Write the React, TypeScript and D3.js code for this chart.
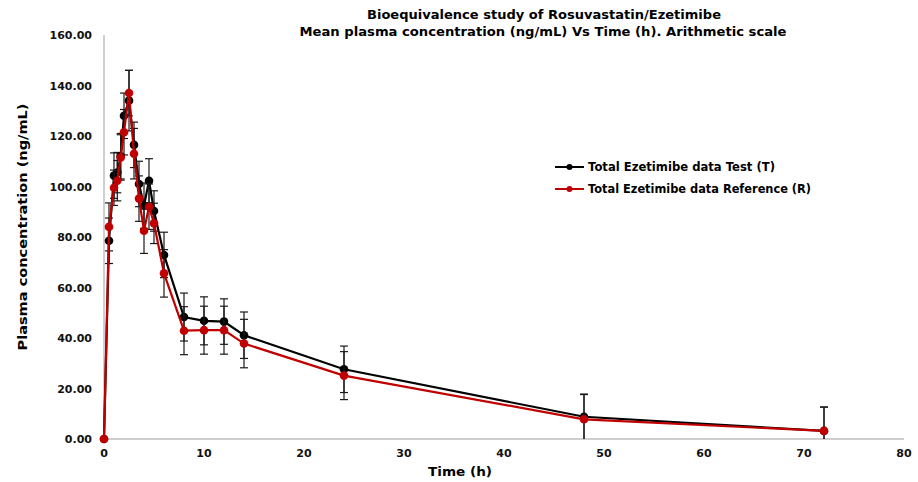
import React, { useEffect, useRef } from 'react'
import * as d3 from 'd3'

// sampling times (h)
const times = [0, 0.5, 1, 1.33, 1.67, 2, 2.5, 3, 3.5, 4, 4.5, 5, 6, 8, 10, 12, 14, 24, 48, 72]

// Total Ezetimibe, Test (T): mean and SD
const testMean = [0, 78.5, 104.3, 105.5, 112, 128, 134, 116.5, 101, 92.4, 102.3, 90.3, 72.9, 48.3, 46.8, 46.5, 41.1, 27.6, 8.8, 3.2]
const testSd = [0, 9, 9, 8, 9, 9, 12, 9, 9, 9, 8.7, 8, 9, 9.5, 9.5, 9, 9.2, 9.2, 9, 9.4]

// Total Ezetimibe, Reference (R): mean and SD
const refMean = [0, 84, 99.5, 102.3, 111.5, 121.5, 137, 113, 95.2, 82.5, 92, 85.4, 65.6, 42.9, 43.1, 43.1, 37.8, 25.1, 7.8, 3.2]
const refSd = [0, 9.5, 7, 8, 9, 9, 9, 10, 9, 9, 9, 8, 9.4, 9.5, 9.5, 9.5, 9.6, 9.5, 9.8, 9.5]

const xTicks = [0, 10, 20, 30, 40, 50, 60, 70, 80]
const yTicks = [0, 20, 40, 60, 80, 100, 120, 140, 160]

const seriesNames = ['Total Ezetimibe data Test (T)', 'Total Ezetimibe data Reference (R)']
const seriesColors = ['#000000', '#c00000']

const W = 918
const H = 482
const FONT = '"DejaVu Sans", Verdana, sans-serif'

export default function App() {
  const ref = useRef<SVGSVGElement>(null)

  useEffect(() => {
    const svg = d3.select(ref.current)
    svg.selectAll('*').remove()

    const x = d3.scaleLinear().domain([0, 80]).range([104, 904])
    const y = d3.scaleLinear().domain([0, 160]).range([439, 35])

    // titles
    const title = svg.append('g').attr('font-family', FONT).attr('font-weight', 'bold')
      .attr('font-size', 12).attr('fill', '#000')
    title.append('text').attr('x', 544).attr('y', 19).attr('text-anchor', 'middle')
      .attr('textLength', 354).attr('lengthAdjust', 'spacingAndGlyphs')
      .text('Bioequivalence study of Rosuvastatin/Ezetimibe')
    title.append('text').attr('x', 543).attr('y', 36).attr('text-anchor', 'middle')
      .attr('textLength', 487).attr('lengthAdjust', 'spacingAndGlyphs')
      .text('Mean plasma concentration (ng/mL) Vs Time (h). Arithmetic scale')

    // axes lines
    svg.append('line').attr('x1', 104).attr('x2', 104).attr('y1', 35).attr('y2', 439)
      .attr('stroke', '#bfbfbf').attr('stroke-width', 1.5)
    svg.append('line').attr('x1', 104).attr('x2', 904).attr('y1', 439).attr('y2', 439)
      .attr('stroke', '#bfbfbf').attr('stroke-width', 1.5)

    // tick labels
    svg.append('g').selectAll('text').data(yTicks).enter().append('text')
      .attr('x', 92).attr('y', d => y(d) + 4).attr('text-anchor', 'end')
      .attr('font-family', FONT).attr('font-weight', 'bold').attr('font-size', 11)
      .attr('fill', '#111')
      .text(d => d.toFixed(2))
    svg.append('g').selectAll('text').data(xTicks).enter().append('text')
      .attr('x', d => x(d)).attr('y', 457).attr('text-anchor', 'middle')
      .attr('font-family', FONT).attr('font-weight', 'bold').attr('font-size', 11)
      .attr('fill', '#111')
      .text(d => String(d))

    // axis titles
    svg.append('text').attr('x', 460).attr('y', 476).attr('text-anchor', 'middle')
      .attr('font-family', FONT).attr('font-weight', 'bold').attr('font-size', 12.5)
      .attr('textLength', 64).attr('lengthAdjust', 'spacingAndGlyphs')
      .text('Time (h)')
    svg.append('text').attr('transform', 'translate(27,227) rotate(-90)').attr('text-anchor', 'middle')
      .attr('font-family', FONT).attr('font-weight', 'bold').attr('font-size', 12.5)
      .attr('textLength', 247).attr('lengthAdjust', 'spacingAndGlyphs')
      .text('Plasma concentration (ng/mL)')

    const line = d3.line<number>().x((_, i) => x(times[i])).y(d => y(d))

    const drawSeries = (mean: number[], sd: number[], color: string) => {
      const g = svg.append('g')
      // error bars
      const eb = g.append('g').attr('stroke', '#1a1a1a').attr('stroke-width', 1.2)
      times.forEach((t, i) => {
        if (sd[i] <= 0) return
        const top = y(mean[i] + sd[i])
        const bot = y(Math.max(0, mean[i] - sd[i]))
        const cx = x(t)
        eb.append('line').attr('x1', cx).attr('x2', cx).attr('y1', top).attr('y2', bot)
        eb.append('line').attr('x1', cx - 4).attr('x2', cx + 4).attr('y1', top).attr('y2', top)
        if (mean[i] - sd[i] > 0) {
          eb.append('line').attr('x1', cx - 4).attr('x2', cx + 4).attr('y1', bot).attr('y2', bot)
        }
      })
      g.append('path').datum(mean).attr('d', line).attr('fill', 'none')
        .attr('stroke', color).attr('stroke-width', 2.2)
      g.selectAll('circle').data(mean).enter().append('circle')
        .attr('cx', (_, i) => x(times[i])).attr('cy', d => y(d)).attr('r', 4.3)
        .attr('fill', color)
    }

    drawSeries(testMean, testSd, seriesColors[0])
    drawSeries(refMean, refSd, seriesColors[1])

    // legend
    const legend = svg.append('g')
    const legendY = [167, 189]
    const legendLen = [187, 223]
    seriesNames.forEach((name, i) => {
      const ly = legendY[i]
      legend.append('line').attr('x1', 555).attr('x2', 584).attr('y1', ly).attr('y2', ly)
        .attr('stroke', seriesColors[i]).attr('stroke-width', 2)
      legend.append('circle').attr('cx', 569.5).attr('cy', ly).attr('r', 3).attr('fill', seriesColors[i])
      legend.append('text').attr('x', 588).attr('y', ly + 4)
        .attr('font-family', FONT).attr('font-weight', 'bold').attr('font-size', 11.5)
        .attr('textLength', legendLen[i]).attr('lengthAdjust', 'spacingAndGlyphs')
        .text(name)
    })
  }, [])

  return (
    <svg ref={ref} width={W} height={H} style={{ display: 'block', position: 'absolute', left: 0, top: 0, background: '#fff' }} />
  )
}
